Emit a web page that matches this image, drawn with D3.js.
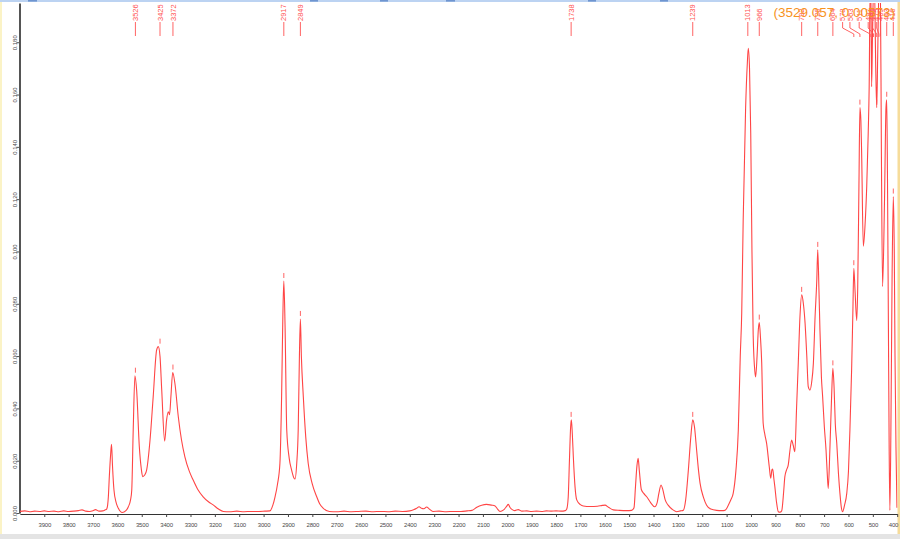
<!DOCTYPE html>
<html><head><meta charset="utf-8">
<script src="https://cdn.jsdelivr.net/npm/d3@7"></script>
<style>html,body{margin:0;padding:0;background:#fff;overflow:hidden;} svg{display:block;}</style>
</head><body>
<svg id="chart" width="900" height="539"></svg>
<script>
// ---------- DATA ----------
const wavenumber = [
4000,3980,3960,3940,3920,3900,3880,3860,3840,3820,3800,3780,3760,3745,3730,3715,3700,3690,3675,3660,3650,3644,3640,3637,3633,3628,3624,3620,3614,3605,3596,3580,3565,3555,3546,3541,3535,3528,3521,3510,3502,3496,3488,3480,3466,3453,3439,3432,3425,3418,3406,3398,3391,3386,3380,3373,3364,3350,3337,3323,3305,3289,3270,3248,3225,3207,3185,3165,3140,3110,3080,3050,3020,2995,2974,2962,2953,2943,2933,2926,2921,2917,2912,2905,2895,2885,2876,2871,2864,2858,2853,2849,2845,2837,2827,2817,2800,2782,2770,2755,2730,2700,2670,2640,2610,2580,2550,2520,2490,2460,2430,2400,2385,2372,2362,2352,2342,2331,2320,2305,2280,2250,2220,2190,2165,2145,2125,2105,2085,2065,2050,2040,2030,2015,2003,1996,1988,1978,1969,1955,1940,1920,1900,1880,1860,1840,1820,1800,1780,1762,1756,1750,1745,1740,1737,1733,1729,1722,1715,1700,1688,1660,1630,1610,1599,1585,1565,1540,1510,1490,1480,1474,1468,1463,1458,1450,1440,1428,1412,1395,1385,1378,1369,1362,1352,1340,1320,1305,1290,1278,1268,1257,1247,1239,1232,1223,1215,1209,1195,1182,1165,1141,1120,1107,1098,1093,1083,1073,1062,1052,1044,1038,1032,1022,1015,1011,1006,1001,996,991,984,981,975,970,966,961,956,950,943,936,925,919,914,911,906,902,895,888,881,874,866,861,854,847,840,833,827,820,813,806,799,792,785,778,771,765,758,751,744,737,730,726,721,717,711,706,699,692,687,683,676,669,664,659,654,648,641,635,629,624,616,607,600,594,587,582,578,573,566,562,557,553,549,546,539,532,525,519,515,511,508,505,501,497,493,488,484,480,475,469,465,460,452,446,443,440,436,433,430,426,421,416,412,409,405,401
];
const absorbance = [
0.0006,0.0008,0.0005,0.0007,0.0006,0.0008,0.0006,0.0007,0.0005,0.0008,0.0006,0.0007,0.0009,0.0012,0.0007,0.0006,0.0009,0.0013,0.0007,0.0008,0.0012,0.0015,0.003,0.0062,0.014,0.022,0.0263,0.018,0.0088,0.004,0.0018,0.0002,0.0009,0.0024,0.005,0.0088,0.0317,0.0525,0.047,0.0254,0.017,0.0139,0.0145,0.0164,0.0279,0.0445,0.0623,0.0636,0.0598,0.047,0.0275,0.0356,0.0387,0.0376,0.045,0.0537,0.0496,0.0368,0.028,0.0215,0.016,0.0126,0.009,0.0062,0.0042,0.0031,0.0015,0.0006,0.0005,0.0007,0.0005,0.0006,0.0006,0.0007,0.0008,0.003,0.0062,0.011,0.019,0.045,0.075,0.0887,0.072,0.0317,0.021,0.0164,0.0135,0.013,0.019,0.0317,0.06,0.0742,0.06,0.0445,0.029,0.019,0.011,0.0062,0.0035,0.0018,0.0006,0.0005,0.0007,0.0005,0.0006,0.0007,0.0005,0.0006,0.0005,0.0007,0.0006,0.0008,0.0012,0.0018,0.0024,0.0018,0.0016,0.0023,0.0015,0.0006,0.0007,0.0005,0.0006,0.0006,0.0008,0.001,0.0022,0.003,0.0033,0.003,0.0027,0.0015,0.0006,0.0012,0.0025,0.0033,0.002,0.0012,0.0009,0.0013,0.0007,0.0008,0.0006,0.0007,0.0006,0.0008,0.0007,0.0008,0.0007,0.0009,0.0015,0.006,0.02,0.033,0.0356,0.03,0.0215,0.01,0.005,0.0032,0.0027,0.0025,0.0026,0.0029,0.003,0.0022,0.0012,0.001,0.0009,0.001,0.002,0.01,0.018,0.0209,0.016,0.009,0.0075,0.0062,0.004,0.0024,0.004,0.0075,0.0107,0.009,0.005,0.003,0.0012,0.0005,0.0008,0.001,0.005,0.0164,0.029,0.0356,0.033,0.024,0.016,0.0114,0.006,0.003,0.0015,0.001,0.0009,0.001,0.002,0.003,0.005,0.0075,0.016,0.0317,0.06,0.0765,0.112,0.155,0.172,0.1777,0.17,0.145,0.1,0.068,0.054,0.052,0.06,0.07,0.0728,0.067,0.0574,0.0343,0.03,0.0267,0.0177,0.0133,0.0165,0.0168,0.013,0.01,0.004,0.0005,0.0003,0.0008,0.008,0.0139,0.0165,0.0184,0.024,0.0279,0.026,0.0234,0.04,0.0572,0.075,0.0834,0.08,0.0725,0.06,0.0483,0.047,0.05,0.0572,0.075,0.089,0.1006,0.085,0.07,0.052,0.0445,0.033,0.024,0.015,0.0094,0.025,0.045,0.0553,0.048,0.034,0.0267,0.015,0.0075,0.002,0.0005,0.003,0.0075,0.016,0.0317,0.055,0.0764,0.0936,0.085,0.0736,0.0864,0.125,0.155,0.15,0.138,0.102,0.11,0.125,0.145,0.163,0.2,0.2,0.163,0.185,0.2,0.2,0.17,0.155,0.175,0.2,0.2,0.14,0.0866,0.12,0.155,0.158,0.13,0.07,0.025,0.001,0.03,0.09,0.121,0.1,0.06,0.025,0.002
];
const peakWavenumbers = [3526,3425,3372,2917,2849,1738,1239,1013,966,792,726,664,578,553,511,497,484,475,469,443,416];
const peakLabels = ["3526","3425","3372","2917","2849","1738","1239","1013","966","792","726","664","578","553","511","497","484","475","469","443","416"];
const peakLabelAt = [3526,3425,3372,2917,2849,1738,1239,1013,966,792,726,664,624,594,556,519,501,484,468,446,420];
const peakHeights = [0.0525,0.0636,0.0537,0.0887,0.0742,0.0356,0.0356,0.1777,0.0728,0.0834,0.1006,0.0553,0.0936,0.155,0.2,0.2,0.155,0.2,0.2,0.158,0.121];
const xTickValues = d3.range(3900, 399, -100);
const yTickValues = [0,0.02,0.04,0.06,0.08,0.1,0.12,0.14,0.16,0.18];
const cursorReadout = "(3529.057, 0.00573)";

// ---------- CHART ----------
const svg = d3.select("#chart");
const W = 900, H = 539;
svg.append("rect").attr("width", W).attr("height", H).attr("fill", "#fff");

const x = d3.scaleLinear().domain([4000, 400]).range([19.9, 897.2]);
const y = d3.scaleLinear().domain([0, 0.195]).range([513, 3]);

// window chrome
svg.append("rect").attr("x",0).attr("y",0).attr("width",2).attr("height",H).attr("fill","#fbf3c6");
svg.append("rect").attr("x",897.5).attr("y",0).attr("width",2.5).attr("height",H).attr("fill","#f6dc9a");
svg.append("rect").attr("x",0).attr("y",534).attr("width",W).attr("height",5).attr("fill","#e4e4e4");
svg.append("rect").attr("x",0).attr("y",0).attr("width",W).attr("height",2).attr("fill","#bcd3f2");
[[28,37],[310,318],[380,388],[446,455],[588,596],[660,668]].forEach(s=>{
  svg.append("rect").attr("x",s[0]).attr("y",0).attr("width",s[1]-s[0]).attr("height",1.6).attr("fill","#6f95d0");
});

// clip
svg.append("clipPath").attr("id","plotclip").append("rect")
  .attr("x",20).attr("y",3).attr("width",877.5).attr("height",511);

// x axis
const xAxis = d3.axisBottom(x).tickValues(xTickValues).tickSize(3).tickSizeOuter(0).tickPadding(6).tickFormat(d3.format("d"));
const gx = svg.append("g").attr("transform","translate(0,514)").call(xAxis);
gx.select(".domain").attr("stroke","#333").attr("stroke-width",1);
gx.selectAll(".tick line").attr("stroke","#444");
gx.selectAll(".tick text").attr("font-family","Liberation Sans, Arial, sans-serif").attr("font-size","6px")
  .attr("letter-spacing","-0.2px").attr("fill","#4a4a4a")
  .attr("x", d => x(d) > 892 ? 893 - x(d) : 0);

// y axis
const yAxis = d3.axisLeft(y).tickValues(yTickValues).tickSize(3).tickSizeOuter(0).tickFormat(d3.format(".3f"));
const gy = svg.append("g").attr("transform","translate(19.5,0)").call(yAxis);
gy.select(".domain").attr("stroke","#555").attr("stroke-width",2);
gy.selectAll(".tick line").attr("stroke","#555");
gy.selectAll(".tick text").attr("font-family","Liberation Sans, Arial, sans-serif").attr("font-size","6px")
  .attr("fill","#4a4a4a").attr("text-anchor","middle").attr("dy",null).attr("x",0).attr("y",-3)
  .attr("transform","rotate(-90)");

// spectrum
const pts = wavenumber.map((w,i)=>({w, a: absorbance[i]}));
const line = d3.line().x(d=>x(d.w)).y(d=>y(d.a)).curve(d3.curveMonotoneX);
svg.append("path").datum(pts).attr("clip-path","url(#plotclip)")
  .attr("d", line).attr("fill","none").attr("stroke","#ff4545").attr("stroke-width",1.1).attr("stroke-linejoin","round");

// peak labels
const red = "#ff5252";
const gl = svg.append("g");
peakWavenumbers.forEach((w,i)=>{
  const px = x(w), tx = x(peakLabelAt[i]);
  gl.append("text").attr("transform",`translate(${tx+2.6},21) rotate(-90)`)
    .attr("text-anchor","start").attr("font-family","Liberation Sans, Arial, sans-serif")
    .attr("font-size","7.5px").attr("fill",red).text(peakLabels[i]);
  let d;
  if (Math.abs(tx-px) < 1) d = `M${px},22V36`;
  else d = `M${tx},22V28L${px},34V37`;
  gl.append("path").attr("d",d).attr("fill","none").attr("stroke",red).attr("stroke-width",0.9);
  if (peakHeights[i] < 0.17) {
    const py = y(peakHeights[i]);
    gl.append("line").attr("x1",px).attr("x2",px).attr("y1",py-8).attr("y2",py-3)
      .attr("stroke",red).attr("stroke-width",0.9);
  }
});

// cursor readout
svg.append("text").attr("x",895).attr("y",17).attr("text-anchor","end")
  .attr("font-family","Liberation Sans, Arial, sans-serif")
  .attr("font-size","13.5px").attr("fill","#f7931e").text(cursorReadout);
</script>
</body></html>
